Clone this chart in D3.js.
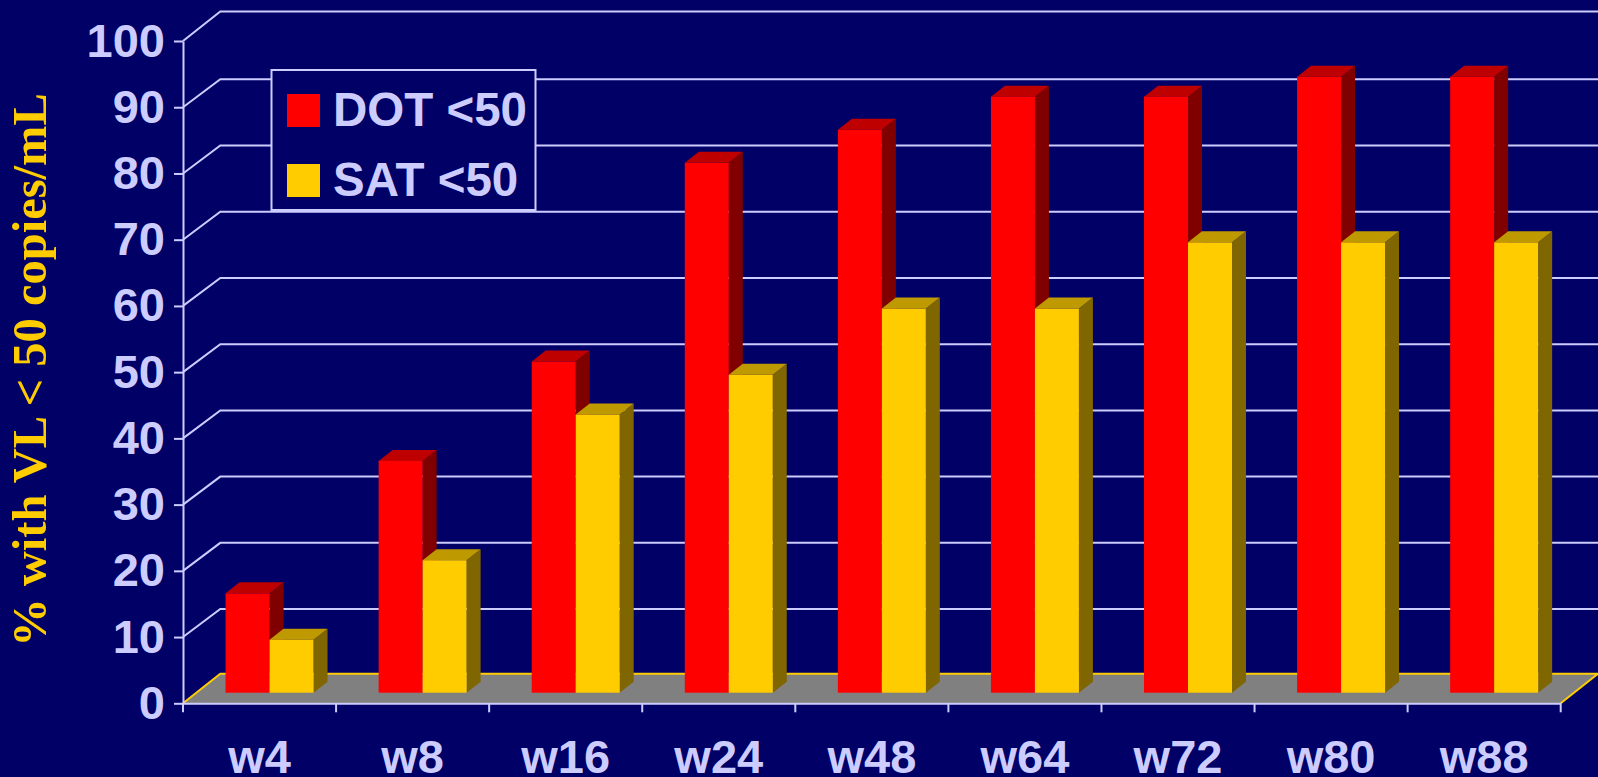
<!DOCTYPE html>
<html>
<head>
<meta charset="utf-8">
<script src="https://cdn.jsdelivr.net/npm/d3@7"></script>
<style>
    html, body { margin: 0; padding: 0; background: #000066; overflow: hidden; }
    svg { display: block; }
    text { font-family: "Liberation Sans", Arial, sans-serif; font-weight: bold; fill: #CCCCFF; }
</style>
</head>
<body>
<svg id="chart" width="1598" height="777"></svg>
<script>
// Values
var weeks = ["w4", "w8", "w16", "w24", "w48", "w64", "w72", "w80", "w88"];
var dotValues = [15, 35, 50, 80, 85, 90, 90, 93, 93];
var satValues = [8, 20, 42, 48, 58, 58, 68, 68, 68];
var yTicks = [0, 10, 20, 30, 40, 50, 60, 70, 80, 90, 100];
var legendLabels = ["DOT <50", "SAT <50"];

var bgColor = "#000066";
var lineColor = "#CCCCFF";
// [front, top, side]
var redShades = ["#FF0000", "#BF0000", "#800000"];
var yellowShades = ["#FFCC00", "#BF9900", "#806600"];

var width = 1598;
var height = 777;
var axisFontSize = 47;
var legendFontSize = 47.5;

// Front plane of the chart box, and how far back the wall sits
var left = 183, right = 1560.7, bottom = 703.3, top100 = 41;
var wallDx = 37.3, wallDy = -29.6;
// The inner grid lines sit a bit lower on the wall than the top one
var innerWallDy = -28;
// Bars stand part way into the box
var barLift = 10.6, barShift = 10, barWidth = 44;
var depthDx = 14, depthDy = -11;

var $svg = d3.select("#chart");
$svg.append("rect").attr("width", width).attr("height", height).attr("fill", bgColor);

var xScale = d3.scaleBand().domain(weeks).range([left, right]);
var yScale = d3.scaleLinear().domain([0, 100]).range([bottom, top100]);

// Back wall: slanted piece from the axis, then a line across
var $grid = $svg.append("g").attr("fill", "none").attr("stroke", lineColor).attr("stroke-width", 2);
yTicks.filter(d => d > 0).forEach(d => {
    let y = yScale(d);
    let dy = d == 100 ? wallDy : innerWallDy;
    $grid.append("path")
        .attr("d", `M${left} ${y}L${left + wallDx} ${y + dy}L${width} ${y + dy}`);
});

// Floor
var floorPts = [
    [left, bottom],
    [left + wallDx, bottom + wallDy],
    [right + wallDx, bottom + wallDy],
    [right, bottom]
];
$svg.append("polygon")
    .attr("points", floorPts.join(" "))
    .attr("fill", "#808080");
$svg.append("path")
    .attr("d", d3.line()(floorPts))
    .attr("fill", "none")
    .attr("stroke", yellowShades[0])
    .attr("stroke-width", 2);

// One 3d bar: side and top first, front face over them
function drawBar($parent, x, value, shades) {
    let y0 = yScale(0) - barLift;
    let y1 = yScale(value) - barLift;
    let x1 = x + barWidth;
    $parent.append("polygon")
        .attr("points", [[x1, y1], [x1 + depthDx, y1 + depthDy], [x1 + depthDx, y0 + depthDy], [x1, y0]].join(" "))
        .attr("fill", shades[2]);
    $parent.append("polygon")
        .attr("points", [[x, y1], [x + depthDx, y1 + depthDy], [x1 + depthDx, y1 + depthDy], [x1, y1]].join(" "))
        .attr("fill", shades[1]);
    $parent.append("rect")
        .attr("x", x)
        .attr("y", y1)
        .attr("width", barWidth)
        .attr("height", y0 - y1)
        .attr("fill", shades[0]);
}

var $bars = $svg.append("g");
weeks.forEach((week, i) => {
    let mid = xScale(week) + xScale.bandwidth() / 2 + barShift;
    drawBar($bars, mid - barWidth, dotValues[i], redShades);
    drawBar($bars, mid, satValues[i], yellowShades);
});

// Y axis
var $yAxis = $svg.append("g")
    .attr("transform", `translate(${left} 0)`)
    .call(d3.axisLeft(yScale).tickValues(yTicks).tickSize(9).tickPadding(9).tickSizeOuter(0));
$yAxis.selectAll("line, path").attr("stroke", lineColor).attr("stroke-width", 2);
$yAxis.selectAll("text")
    .attr("fill", lineColor)
    .style("font-size", axisFontSize + "px")
    .style("font-family", '"Liberation Sans", Arial, sans-serif');

// X axis: labels from the axis, ticks sit on the band edges
var $xAxis = $svg.append("g")
    .attr("transform", `translate(0 ${bottom})`)
    .call(d3.axisBottom(xScale).tickSize(0).tickSizeOuter(0).tickPadding(36));
$xAxis.select(".domain").attr("stroke", lineColor).attr("stroke-width", 2);
$xAxis.selectAll("text")
    .attr("fill", lineColor)
    .style("font-size", axisFontSize + "px")
    .style("font-family", '"Liberation Sans", Arial, sans-serif');
d3.range(weeks.length + 1).forEach(i => {
    let x = left + i * xScale.step();
    $xAxis.append("line")
        .attr("x1", x).attr("x2", x)
        .attr("y1", 0).attr("y2", 9)
        .attr("stroke", lineColor)
        .attr("stroke-width", 2);
});

// Y axis title
$svg.append("text")
    .attr("transform", "translate(46 370) rotate(-90)")
    .attr("text-anchor", "middle")
    .style("font-family", '"Liberation Serif", "Times New Roman", serif')
    .style("font-size", "48.5px")
    .style("fill", yellowShades[0])
    .text("% with VL < 50 copies/mL");

// Legend
var $legend = $svg.append("g");
$legend.append("rect")
    .attr("x", 271.5).attr("y", 70)
    .attr("width", 264).attr("height", 140)
    .attr("fill", bgColor)
    .attr("stroke", lineColor)
    .attr("stroke-width", 2);
legendLabels.forEach((label, i) => {
    let rowY = 94 + i * 70;
    $legend.append("rect")
        .attr("x", 287).attr("y", rowY)
        .attr("width", 33).attr("height", 33)
        .attr("fill", (i == 0 ? redShades : yellowShades)[0]);
    $legend.append("text")
        .attr("x", 333).attr("y", rowY + 32)
        .style("font-size", legendFontSize + "px")
        .text(label);
});
</script>
</body>
</html>
